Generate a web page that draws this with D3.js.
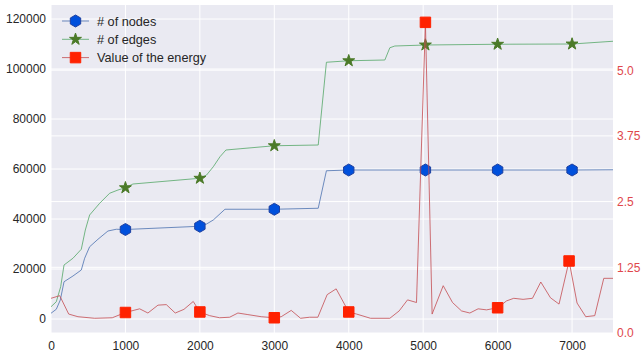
<!DOCTYPE html>
<html>
<head>
<meta charset="utf-8">
<script src="https://cdn.jsdelivr.net/npm/d3@7"></script>
<style>
  html, body { margin: 0; padding: 0; background: #ffffff; }
</style>
</head>
<body>
<div id="chart"></div>
<script>
// values
const nodesX = [0, 71, 125, 175, 295, 407, 452, 519, 631, 765, 877, 1000, 2000, 2090, 2180, 2337, 3000, 3590, 3700, 4000, 5030, 6000, 7000, 7550];
const nodesY = [2300, 3900, 7600, 14900, 17200, 19600, 24300, 28900, 31900, 35200, 35900, 35800, 37100, 38000, 39600, 43900, 43900, 44300, 59300, 59600, 59600, 59600, 59600, 59700];

const edgesX = [0, 71, 130, 175, 295, 407, 461, 519, 654, 788, 900, 1000, 1101, 2000, 2090, 2180, 2270, 2350, 2540, 3000, 3590, 3700, 4000, 4485, 4552, 4619, 5030, 6000, 7000, 7550];
const edgesY = [4900, 6900, 12900, 21600, 24300, 27900, 35600, 41600, 46300, 50300, 51600, 52500, 54000, 56300, 57600, 60900, 64900, 67600, 68100, 69300, 69600, 102700, 103300, 103600, 108500, 109200, 109600, 109900, 110000, 111100];

const energyX = [0, 117, 238, 362, 587, 823, 1000, 1191, 1302, 1437, 1549, 1669, 1786, 1911, 2000, 2131, 2265, 2400, 2511, 2645, 2824, 3000, 3093, 3227, 3353, 3474, 3585, 3710, 3831, 4000, 4105, 4293, 4552, 4677, 4790, 4910, 5030, 5120, 5269, 5394, 5515, 5627, 5738, 5851, 6000, 6119, 6217, 6342, 6468, 6580, 6710, 6825, 6960, 7067, 7184, 7305, 7426, 7550];
const energyY = [0.66, 0.71, 0.36, 0.31, 0.28, 0.29, 0.39, 0.46, 0.38, 0.53, 0.54, 0.38, 0.45, 0.60, 0.40, 0.33, 0.29, 0.30, 0.38, 0.35, 0.31, 0.29, 0.31, 0.43, 0.28, 0.30, 0.30, 0.73, 0.84, 0.40, 0.36, 0.28, 0.28, 0.42, 0.63, 0.58, 5.91, 0.36, 0.90, 0.58, 0.42, 0.38, 0.46, 0.44, 0.48, 0.61, 0.66, 0.64, 0.66, 0.97, 0.67, 0.55, 1.37, 0.57, 0.31, 0.33, 1.04, 1.04];

// x positions where a marker is drawn on each line
const nodesMarkX = [1000, 2000, 3000, 4000, 5030, 6000, 7000];
const edgesMarkX = [1000, 2000, 3000, 4000, 5030, 6000, 7000];
const energyMarkX = [1000, 2000, 3000, 4000, 5030, 6000, 6960];

const xTicks = [0, 1000, 2000, 3000, 4000, 5000, 6000, 7000];
const leftTicks = [0, 20000, 40000, 60000, 80000, 100000, 120000];
const rightTicks = [0, 1.25, 2.5, 3.75, 5.0];
const rightTickLabels = ["0.0", "1.25", "2.5", "3.75", "5.0"];

const legendLabels = ["# of nodes", "# of edges", "Value of the energy"];

class Chart {
    constructor() {
        const attrs = {
            container: "#chart",
            svgWidth: 642,
            svgHeight: 352,
            marginTop: 5,
            marginBottom: 19,
            marginRight: 29,
            marginLeft: 51,
            plotBackground: "#EAEAF2",
            textFill: "#262626",
            rightFill: "#E0474C",
            defaultFont: "'Liberation Sans', Arial, sans-serif",
            fontSize: 12
        };
        this.getState = () => attrs;
        this.setState = (d) => Object.assign(attrs, d);
    }

    render() {
        this.calculateProperties();
        this.drawSvgAndWrappers();
        this.drawGrid();
        this.drawAxes();
        this.drawSeries();
        this.drawLegend();
        return this;
    }

    calculateProperties() {
        const { svgWidth, svgHeight, marginLeft, marginRight, marginTop, marginBottom } = this.getState();
        const chartWidth = svgWidth - marginLeft - marginRight;
        const chartHeight = svgHeight - marginTop - marginBottom;

        const x = d3.scaleLinear().domain([0, 7550]).range([0, chartWidth]);
        const yLeft = d3.scaleLinear().domain([-5600, 125600]).range([chartHeight, 0]);
        const yRight = d3.scaleLinear().domain([0, 6.24]).range([chartHeight, 0]);

        this.setState({ chartWidth, chartHeight, x, yLeft, yRight });
    }

    drawSvgAndWrappers() {
        const { container, svgWidth, svgHeight, marginLeft, marginTop, chartWidth, chartHeight, plotBackground, defaultFont } = this.getState();

        const svg = d3.select(container)
            .append("svg")
            .attr("width", svgWidth)
            .attr("height", svgHeight)
            .attr("font-family", defaultFont);

        const chart = svg.append("g")
            .attr("transform", `translate(${marginLeft},${marginTop})`);

        chart.append("rect")
            .attr("width", chartWidth)
            .attr("height", chartHeight)
            .attr("fill", plotBackground);

        this.setState({ svg, chart });
    }

    drawGrid() {
        const { chart, x, yLeft, yRight, chartWidth, chartHeight } = this.getState();
        const grid = chart.append("g").attr("stroke", "#ffffff").attr("stroke-width", 1);

        grid.selectAll(".gx").data(xTicks).join("line")
            .attr("x1", d => x(d)).attr("x2", d => x(d))
            .attr("y1", 0).attr("y2", chartHeight);

        grid.selectAll(".gl").data(leftTicks).join("line")
            .attr("x1", 0).attr("x2", chartWidth)
            .attr("y1", d => yLeft(d)).attr("y2", d => yLeft(d));

        grid.selectAll(".gr").data(rightTicks).join("line")
            .attr("x1", 0).attr("x2", chartWidth)
            .attr("y1", d => yRight(d)).attr("y2", d => yRight(d));
    }

    drawAxes() {
        const { chart, x, yLeft, yRight, chartWidth, chartHeight, textFill, rightFill, fontSize } = this.getState();

        const styleAxis = (g, color) => {
            g.select(".domain").remove();
            g.selectAll(".tick line").remove();
            g.selectAll(".tick text")
                .attr("fill", color)
                .attr("font-size", fontSize)
                .attr("font-family", null);
        };

        chart.append("g")
            .attr("transform", `translate(0,${chartHeight})`)
            .call(d3.axisBottom(x).tickValues(xTicks).tickFormat(d3.format("d")).tickSize(0).tickPadding(8))
            .call(g => styleAxis(g, textFill));

        chart.append("g")
            .call(d3.axisLeft(yLeft).tickValues(leftTicks).tickFormat(d3.format("d")).tickSize(0).tickPadding(5))
            .call(g => styleAxis(g, textFill));

        chart.append("g")
            .attr("transform", `translate(${chartWidth},0)`)
            .call(d3.axisRight(yRight).tickValues(rightTicks).tickFormat((d, i) => rightTickLabels[i]).tickSize(0).tickPadding(4))
            .call(g => styleAxis(g, rightFill));
    }

    hexagon(r) {
        const pts = d3.range(6).map(k => {
            const a = (-90 + 60 * k) * Math.PI / 180;
            return [r * Math.cos(a), r * Math.sin(a)];
        });
        return "M" + pts.join("L") + "Z";
    }

    markerPath(kind) {
        if (kind === "hex") return this.hexagon(6);
        if (kind === "star") return d3.symbol(d3.symbolStar, 44)();
        return d3.symbol(d3.symbolSquare, 110)();
    }

    drawSeries() {
        const { chart, x, yLeft, yRight } = this.getState();

        const series = [
            { xs: nodesX, ys: nodesY, marks: nodesMarkX, y: yLeft, line: "#4C72B0", fill: "#0050DC", edge: "#1E40A0", kind: "hex" },
            { xs: edgesX, ys: edgesY, marks: edgesMarkX, y: yLeft, line: "#55A868", fill: "#4B7A28", edge: "#4B7A28", kind: "star" },
            { xs: energyX, ys: energyY, marks: energyMarkX, y: yRight, line: "#C44E52", fill: "#FF2200", edge: "#FF2200", kind: "square" }
        ];
        this.setState({ series });

        series.forEach(s => {
            const pts = s.xs.map((d, i) => [d, s.ys[i]]);
            const line = d3.line().x(d => x(d[0])).y(d => s.y(d[1]));

            chart.append("path")
                .datum(pts)
                .attr("d", line)
                .attr("fill", "none")
                .attr("stroke", s.line)
                .attr("stroke-width", 1)
                .attr("opacity", 0.8);

            chart.selectAll(null)
                .data(pts.filter(d => s.marks.includes(d[0])))
                .join("path")
                .attr("d", this.markerPath(s.kind))
                .attr("transform", d => `translate(${x(d[0])},${s.y(d[1])})`)
                .attr("fill", s.fill)
                .attr("stroke", s.edge)
                .attr("stroke-width", 1);
        });
    }

    drawLegend() {
        const { svg, series, textFill } = this.getState();

        const legend = svg.append("g").attr("transform", "translate(62,21)");

        const rows = legend.selectAll("g")
            .data(series)
            .join("g")
            .attr("transform", (d, i) => `translate(0,${i * 18.3})`);

        rows.append("line")
            .attr("x1", 0).attr("x2", 27)
            .attr("stroke", d => d.line)
            .attr("stroke-width", 1)
            .attr("opacity", 0.8);

        rows.append("path")
            .attr("d", d => this.markerPath(d.kind))
            .attr("transform", "translate(13.5,0)")
            .attr("fill", d => d.fill)
            .attr("stroke", d => d.edge);

        rows.append("text")
            .attr("x", 35)
            .attr("y", 4.5)
            .attr("font-size", 12.7)
            .attr("fill", textFill)
            .text((d, i) => legendLabels[i]);
    }
}

new Chart().render();
</script>
</body>
</html>
